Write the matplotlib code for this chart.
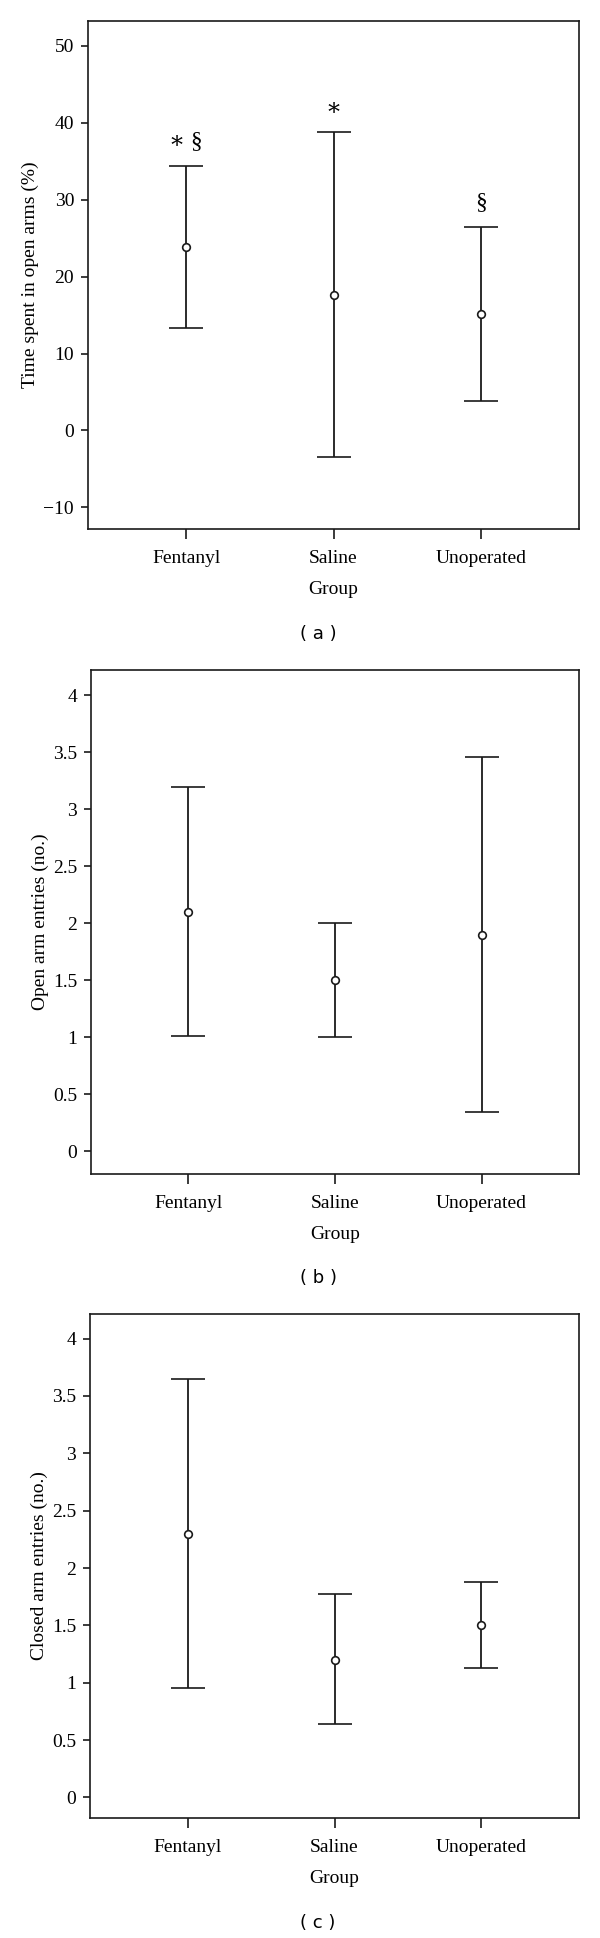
import matplotlib
matplotlib.use("Agg")
import matplotlib.pyplot as plt

plt.rcParams['font.family'] = ['Liberation Serif', 'DejaVu Serif']

groups = ["Fentanyl", "Saline", "Unoperated"]

# panel (a) time spent in open arms (%)
time_mean = [23.8, 17.6, 15.1]
time_low = [13.3, -3.5, 3.8]
time_high = [34.4, 38.8, 26.4]
time_marks = ["\u2217 \u00a7", "\u2217", "\u00a7"]
time_mark_y = [37.6, 41.8, 29.6]

# panel (b) open arm entries
open_mean = [2.10, 1.50, 1.90]
open_low = [1.01, 1.00, 0.34]
open_high = [3.19, 2.00, 3.46]

# panel (c) closed arm entries
closed_mean = [2.30, 1.20, 1.50]
closed_low = [0.95, 0.64, 1.13]
closed_high = [3.65, 1.77, 1.88]

yticks_a = [-10, 0, 10, 20, 30, 40, 50]
yticks_a_labels = ["\u221210", "0", "10", "20", "30", "40", "50"]
yticks_bc = [0, 0.5, 1, 1.5, 2, 2.5, 3, 3.5, 4]
ytick_labels_bc = ["0", "0.5", "1", "1.5", "2", "2.5", "3", "3.5", "4"]

W, H = 600, 1938
fig = plt.figure(figsize=(W / 100, H / 100), dpi=100)

ink = "#1a1a1a"
fs = 14


def panel(box, mean, low, high, ylim, yticks, ylabels, ylabel, tag, tag_y):
    l, t, r, b = box
    ax = fig.add_axes([l / W, 1 - b / H, (r - l) / W, (b - t) / H])
    x = list(range(1, len(groups) + 1))
    err = [[m - lo for m, lo in zip(mean, low)], [hi - m for m, hi in zip(mean, high)]]
    ax.errorbar(x, mean, yerr=err, fmt="o", color=ink, mfc="white", mec=ink,
                ms=5.5, mew=1.2, elinewidth=1.3, capsize=12, capthick=1.3)
    ax.set_xlim(0.335, 3.665)
    ax.set_ylim(*ylim)
    ax.set_xticks(x)
    ax.set_xticklabels(groups, fontsize=fs)
    ax.set_yticks(yticks)
    ax.set_yticklabels(ylabels, fontsize=fs)
    ax.tick_params(axis="x", length=7, width=1.2, color=ink, pad=8)
    ax.tick_params(axis="y", length=5, width=1.2, color=ink, pad=5)
    for s in ax.spines.values():
        s.set_linewidth(1.2)
        s.set_color(ink)
    ax.set_ylabel(ylabel, fontsize=fs, labelpad=3)
    ax.set_xlabel("Group", fontsize=fs, labelpad=10)
    fig.text(318 / W, 1 - tag_y / H, tag, ha="center", va="center",
             fontsize=13, family="DejaVu Sans")
    return ax


ax_a = panel((88, 21, 579, 529), time_mean, time_low, time_high, (-12.8, 53.2),
             yticks_a, yticks_a_labels, "Time spent in open arms (%)", "( a )", 634)
for i, (txt, yy) in enumerate(zip(time_marks, time_mark_y)):
    ax_a.text(i + 1, yy, txt, ha="center", va="center", fontsize=17)

panel((91, 670, 579, 1174), open_mean, open_low, open_high, (-0.2, 4.22),
      yticks_bc, ytick_labels_bc, "Open arm entries (no.)", "( b )", 1278)

panel((90, 1314, 579, 1818), closed_mean, closed_low, closed_high, (-0.18, 4.215),
      yticks_bc, ytick_labels_bc, "Closed arm entries (no.)", "( c )", 1923)

fig.savefig("out.png", dpi=100)
